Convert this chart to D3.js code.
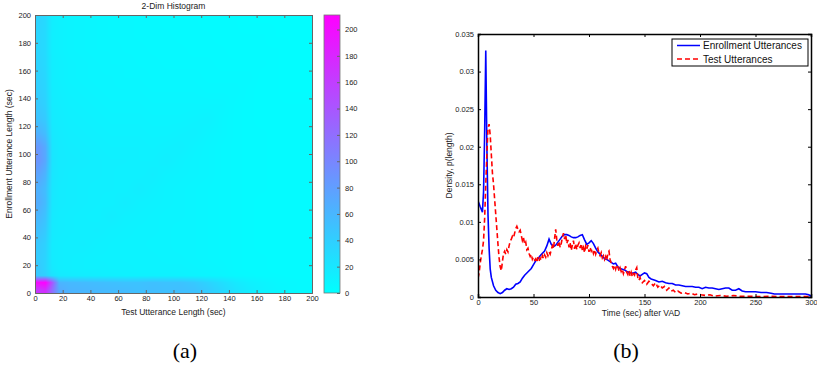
<!DOCTYPE html>
<html>
<head>
<meta charset="utf-8">
<script src="https://cdn.jsdelivr.net/npm/d3@7"></script>
<style>
  body { margin: 0; background: #fff; }
  svg { display: block; font-family: "Liberation Sans", Arial, sans-serif; }
</style>
</head>
<body>
<svg id="chart" width="817" height="367"></svg>
<script>
// (a) 2-D histogram; bin edges (sec) shared by both axes, rows = enrollment length, cols = test length
const binEdges = [0, 5, 10, 15, 20, 30, 40, 50, 60, 70, 80, 90, 100, 110, 120, 130, 140, 150, 160, 170, 180, 190, 200];
const histCounts = [
  [165, 175, 120, 70, 62, 60, 58, 56, 55, 52, 54, 52, 53, 50, 42, 32, 22, 15, 10, 7, 5, 4],
  [205, 211, 140, 62, 58, 56, 54, 52, 50, 50, 52, 50, 50, 45, 36, 27, 18, 12, 9, 6, 5, 4],
  [45, 40, 24, 18, 16, 15, 14, 13, 12, 12, 12, 12, 11, 10, 9, 8, 6, 5, 4, 4, 3, 3],
  [45, 35, 18, 14, 13, 12, 12, 11, 11, 10, 10, 10, 10, 9, 8, 7, 5, 4, 4, 3, 3, 3],
  [42, 36, 16, 14, 13, 12, 11, 11, 10, 10, 10, 9, 9, 8, 7, 6, 5, 4, 4, 3, 3, 3],
  [45, 38, 16, 14, 13, 14, 12, 11, 10, 10, 9, 9, 8, 8, 7, 6, 5, 4, 3, 3, 3, 3],
  [52, 44, 17, 15, 14, 13, 14, 12, 11, 10, 10, 9, 8, 8, 7, 6, 5, 4, 3, 3, 3, 3],
  [60, 50, 18, 15, 14, 13, 12, 15, 12, 11, 10, 9, 9, 8, 7, 6, 5, 4, 3, 3, 3, 3],
  [68, 56, 19, 16, 15, 14, 13, 12, 15, 12, 11, 10, 9, 8, 7, 6, 5, 4, 3, 3, 3, 3],
  [64, 54, 20, 16, 15, 14, 13, 13, 12, 15, 12, 10, 9, 8, 7, 6, 5, 4, 4, 3, 3, 3],
  [75, 62, 21, 17, 15, 14, 14, 13, 12, 12, 14, 11, 10, 9, 8, 6, 5, 4, 4, 3, 3, 3],
  [88, 72, 22, 17, 16, 15, 14, 13, 13, 12, 12, 14, 11, 9, 8, 6, 5, 4, 4, 3, 3, 3],
  [85, 70, 21, 17, 15, 14, 13, 12, 12, 12, 11, 12, 13, 10, 8, 6, 5, 4, 4, 3, 3, 3],
  [64, 54, 19, 16, 14, 13, 12, 11, 11, 11, 10, 10, 11, 12, 9, 7, 5, 4, 4, 3, 3, 3],
  [50, 44, 17, 15, 13, 12, 11, 10, 10, 10, 9, 9, 9, 10, 11, 7, 5, 4, 3, 3, 3, 3],
  [44, 38, 16, 14, 12, 11, 10, 9, 9, 9, 8, 8, 8, 8, 8, 8, 5, 4, 3, 3, 3, 3],
  [40, 35, 15, 13, 11, 10, 9, 8, 8, 8, 7, 7, 7, 7, 6, 6, 6, 4, 3, 3, 2, 2],
  [38, 33, 14, 12, 10, 9, 8, 8, 7, 7, 6, 6, 6, 6, 5, 5, 5, 5, 3, 3, 2, 2],
  [36, 31, 14, 12, 10, 9, 8, 7, 7, 6, 6, 5, 5, 5, 5, 4, 4, 4, 4, 3, 2, 2],
  [34, 30, 13, 11, 9, 8, 7, 7, 6, 6, 5, 5, 5, 4, 4, 4, 3, 3, 3, 3, 2, 2],
  [34, 30, 13, 11, 9, 8, 7, 6, 6, 5, 5, 5, 4, 4, 4, 3, 3, 3, 3, 2, 2, 2],
  [36, 31, 14, 11, 9, 8, 7, 6, 6, 5, 5, 4, 4, 4, 3, 3, 3, 2, 2, 2, 2, 2]
];
const histTicks = d3.range(0, 201, 20);
const cbarTicks = d3.range(0, 201, 20);
const cbarMax = 211;

// (b) density curves
const enrollTime = [0, 2, 4, 5, 6, 7, 8, 9, 10, 11, 12, 14, 16, 18, 20, 22, 24, 26, 28, 30, 32, 34, 36, 38, 40, 42, 44, 46, 48, 50, 52, 54, 56, 58, 60, 62, 64, 66, 68, 70, 72, 74, 76, 78, 80, 82, 84, 86, 88, 90, 92, 94, 96, 98, 100, 102, 104, 106, 108, 110, 112, 114, 116, 118, 120, 122, 124, 126, 128, 130, 132, 134, 136, 138, 140, 142, 144, 146, 148, 150, 152, 154, 156, 158, 160, 163, 166, 169, 172, 175, 178, 181, 184, 187, 190, 193, 196, 199, 202, 205, 208, 211, 214, 217, 220, 223, 226, 229, 232, 235, 238, 241, 245, 250, 255, 260, 264, 267, 272, 278, 284, 290, 295, 298, 300];
const enrollDensity = [0.0128, 0.012, 0.0113, 0.014, 0.022, 0.0328, 0.02, 0.011, 0.0065, 0.0037, 0.0026, 0.0015, 0.0009, 0.0006, 0.00045, 0.0006, 0.0009, 0.0011, 0.001, 0.0011, 0.0013, 0.0017, 0.0018, 0.002, 0.0025, 0.0029, 0.0032, 0.0035, 0.0038, 0.0043, 0.0048, 0.0051, 0.0055, 0.0058, 0.0061, 0.0068, 0.0077, 0.007, 0.0067, 0.0069, 0.0073, 0.0077, 0.0081, 0.0083, 0.0083, 0.0082, 0.008, 0.0079, 0.0079, 0.008, 0.0082, 0.0083, 0.0076, 0.007, 0.0072, 0.0075, 0.0071, 0.0065, 0.006, 0.0057, 0.0054, 0.0051, 0.005, 0.0048, 0.0046, 0.0044, 0.0045, 0.004, 0.0038, 0.0037, 0.0036, 0.0034, 0.0033, 0.0032, 0.0032, 0.0033, 0.003, 0.0028, 0.003, 0.0032, 0.0031, 0.0026, 0.0024, 0.0023, 0.0022, 0.002, 0.0021, 0.0019, 0.0018, 0.0018, 0.0016, 0.0016, 0.0015, 0.0014, 0.0014, 0.0014, 0.0013, 0.0013, 0.0011, 0.0013, 0.0012, 0.0012, 0.0011, 0.001, 0.0011, 0.0012, 0.0012, 0.0009, 0.0009, 0.0011, 0.0008, 0.0007, 0.0007, 0.0007, 0.0006, 0.0006, 0.0005, 0.0004, 0.0004, 0.0004, 0.0004, 0.0004, 0.0004, 0.0003, 0.0001];

const testTime = [0, 1, 2, 3, 4, 5, 6, 7, 8, 9, 10, 11, 12, 13, 14, 15, 16, 17, 18, 19, 20, 21, 22, 23, 24, 25, 26, 27, 28, 29, 30, 31, 32, 33, 34, 35, 36, 37, 38, 39, 40, 41, 42, 43, 44, 45, 46, 47, 48, 49, 50, 51, 52, 53, 54, 55, 56, 57, 58, 59, 60, 61, 62, 63, 64, 65, 66, 67, 68, 69, 70, 71, 72, 73, 74, 75, 76, 77, 78, 79, 80, 81, 82, 83, 84, 85, 86, 87, 88, 89, 90, 91, 92, 93, 94, 95, 96, 97, 98, 99, 100, 101, 102, 103, 104, 105, 106, 107, 108, 109, 110, 111, 112, 113, 114, 115, 116, 117, 118, 119, 120, 121, 122, 123, 124, 125, 126, 127, 128, 129, 130, 131, 132, 133, 134, 135, 136, 137, 138, 139, 140, 141, 142, 143, 144, 145, 146, 147, 148, 150, 152, 154, 156, 158, 160, 162, 164, 166, 168, 170, 172, 174, 176, 178, 180, 183, 186, 189, 192, 195, 198, 201, 205, 209, 213, 218, 224, 230, 236, 244, 252, 262, 272, 282, 292, 300];
const testDensity = [0.0025, 0.0032, 0.0045, 0.0055, 0.0063, 0.0075, 0.0105, 0.015, 0.019, 0.0225, 0.023, 0.0215, 0.019, 0.0165, 0.015, 0.013, 0.011, 0.009, 0.007, 0.0052, 0.004, 0.0035, 0.0047, 0.0058, 0.0061, 0.0057, 0.0063, 0.006, 0.0068, 0.0074, 0.0077, 0.0081, 0.0079, 0.0085, 0.0091, 0.0094, 0.009, 0.0087, 0.0089, 0.0082, 0.0075, 0.0079, 0.007, 0.0073, 0.0063, 0.0065, 0.0058, 0.0054, 0.0057, 0.005, 0.0053, 0.0049, 0.0051, 0.0046, 0.0053, 0.0048, 0.0052, 0.0049, 0.0055, 0.0051, 0.0056, 0.0053, 0.0059, 0.0055, 0.006, 0.0057, 0.0063, 0.0068, 0.0064, 0.0078, 0.009, 0.0076, 0.0068, 0.0074, 0.0066, 0.0071, 0.0079, 0.0085, 0.0077, 0.0083, 0.0071, 0.0076, 0.0066, 0.0072, 0.0062, 0.0069, 0.0075, 0.0064, 0.0071, 0.0063, 0.0069, 0.0072, 0.0065, 0.0071, 0.0062, 0.0066, 0.0059, 0.0068, 0.0064, 0.0069, 0.006, 0.0066, 0.0061, 0.0064, 0.0058, 0.0063, 0.0057, 0.0062, 0.0065, 0.0058, 0.0055, 0.0059, 0.0052, 0.0055, 0.005, 0.0054, 0.0049, 0.0059, 0.0061, 0.005, 0.0045, 0.0041, 0.0038, 0.0042, 0.0037, 0.0043, 0.004, 0.0035, 0.0039, 0.0034, 0.0037, 0.0031, 0.0036, 0.0041, 0.0033, 0.003, 0.0035, 0.0028, 0.0033, 0.0027, 0.0031, 0.0029, 0.0036, 0.0039, 0.0025, 0.0022, 0.0026, 0.0021, 0.0019, 0.0022, 0.0017, 0.0021, 0.0018, 0.0015, 0.0019, 0.0013, 0.0016, 0.0012, 0.0014, 0.0009, 0.0012, 0.0008, 0.0009, 0.0006, 0.0008, 0.0005, 0.0006, 0.0004, 0.0005, 0.0003, 0.0004, 0.0003, 0.0002, 0.0003, 0.0001, 0.0002, 0.0001, 0.0002, 0.0001, 0.0001, 0.00005, 0.0001, 0.00005, 0.00005, 0.00005, 0.00005];

const densityTicks = d3.range(0, 0.0351, 0.005);
const timeTicks = d3.range(0, 301, 50);
const seriesNames = ['Enrollment Utterances', 'Test Utterances'];

const svg = d3.select('#chart');
const tickFont = '7.5px';

// ---------- (a) histogram ----------
const hx = d3.scaleLinear().domain([0, 200]).range([35, 312]);
const hy = d3.scaleLinear().domain([0, 200]).range([293, 15]);
const color = d3.scaleLinear().domain([0, cbarMax]).range(['#00ffff', '#ff00ff']).clamp(true);

// smooth (interpolated) shading between bin centres
const centers = d3.pairs(binEdges).map(([a, b]) => (a + b) / 2);
const toIdx = d3.scaleLinear().domain(centers).range(d3.range(centers.length)).clamp(true);
const n = centers.length;
const pw = Math.round(hx(200) - hx(0)), ph = Math.round(hy(0) - hy(200));
const cv = document.createElement('canvas');
cv.width = pw; cv.height = ph;
const ctx = cv.getContext('2d');
const img = ctx.createImageData(pw, ph);
const colIdx = d3.range(pw).map(px => toIdx(hx.invert(hx(0) + px + 0.5)));
const rowIdx = d3.range(ph).map(py => toIdx(hy.invert(hy(200) + py + 0.5)));
rowIdx.forEach((fi, py) => {
  const i0 = Math.floor(fi), i1 = Math.min(i0 + 1, n - 1), ti = fi - i0;
  colIdx.forEach((fj, px) => {
    const j0 = Math.floor(fj), j1 = Math.min(j0 + 1, n - 1), tj = fj - j0;
    const a = histCounts[i0][j0] * (1 - tj) + histCounts[i0][j1] * tj;
    const b = histCounts[i1][j0] * (1 - tj) + histCounts[i1][j1] * tj;
    const c = d3.rgb(color(a * (1 - ti) + b * ti));
    const k = (py * pw + px) * 4;
    img.data[k] = c.r; img.data[k + 1] = c.g; img.data[k + 2] = c.b; img.data[k + 3] = 255;
  });
});
ctx.putImageData(img, 0, 0);

svg.append('image')
  .attr('x', hx(0)).attr('y', hy(200))
  .attr('width', pw).attr('height', ph)
  .attr('preserveAspectRatio', 'none')
  .attr('href', cv.toDataURL());

function boxAxes(g, x, y, xt, yt, fmtY, stroke, sw) {
  g.append('g').attr('transform', `translate(0,${y.range()[0]})`)
    .call(d3.axisBottom(x).tickValues(xt).tickSize(-3).tickPadding(3));
  g.append('g').attr('transform', `translate(0,${y.range()[1]})`)
    .call(d3.axisTop(x).tickValues(xt).tickSize(-3).tickFormat(''));
  g.append('g').attr('transform', `translate(${x.range()[0]},0)`)
    .call(d3.axisLeft(y).tickValues(yt).tickSize(-3).tickPadding(4).tickFormat(fmtY));
  g.append('g').attr('transform', `translate(${x.range()[1]},0)`)
    .call(d3.axisRight(y).tickValues(yt).tickSize(-3).tickFormat(''));
  g.selectAll('.domain').attr('stroke', stroke).attr('stroke-width', sw);
  g.selectAll('.tick line').attr('stroke', stroke);
  g.selectAll('text').attr('font-size', tickFont).attr('fill', '#222')
    .attr('font-family', '"Liberation Sans", Arial, sans-serif');
}

const gA = svg.append('g');
boxAxes(gA, hx, hy, histTicks, histTicks, d3.format('d'), '#666', 1);
gA.selectAll('.tick').filter(d => d === 0).select('line').remove();

svg.append('text').attr('x', (hx(0) + hx(200)) / 2).attr('y', 9)
  .attr('text-anchor', 'middle').attr('font-size', '8.5px').attr('fill', '#222')
  .text('2-Dim Histogram');
svg.append('text').attr('x', (hx(0) + hx(200)) / 2).attr('y', 315)
  .attr('text-anchor', 'middle').attr('font-size', '8.5px').attr('fill', '#222')
  .text('Test Utterance Length (sec)');
svg.append('text')
  .attr('transform', `translate(12,${(hy(0) + hy(200)) / 2}) rotate(-90)`)
  .attr('text-anchor', 'middle').attr('font-size', '8.5px').attr('fill', '#222')
  .text('Enrollment Utterance Length (sec)');

// colorbar
const cy = d3.scaleLinear().domain([0, cbarMax]).range([293, 15]);
const grad = svg.append('defs').append('linearGradient')
  .attr('id', 'cbar').attr('x1', 0).attr('y1', 1).attr('x2', 0).attr('y2', 0);
grad.append('stop').attr('offset', 0).attr('stop-color', color(0));
grad.append('stop').attr('offset', 1).attr('stop-color', color(cbarMax));
svg.append('rect').attr('x', 324).attr('y', cy(cbarMax))
  .attr('width', 16).attr('height', cy(0) - cy(cbarMax))
  .attr('fill', 'url(#cbar)').attr('stroke', '#777').attr('stroke-width', 0.8);
const gC = svg.append('g').attr('transform', 'translate(340,0)')
  .call(d3.axisRight(cy).tickValues(cbarTicks).tickSize(-3).tickPadding(5));
gC.select('.domain').remove();
gC.selectAll('.tick line').attr('stroke', '#666');
gC.selectAll('text').attr('font-size', tickFont).attr('fill', '#222')
  .attr('font-family', '"Liberation Sans", Arial, sans-serif');

// ---------- (b) densities ----------
const dx = d3.scaleLinear().domain([0, 300]).range([478, 811]);
const dy = d3.scaleLinear().domain([0, 0.035]).range([297, 34]);
const clip = svg.select('defs').append('clipPath').attr('id', 'clipB');
clip.append('rect').attr('x', 478).attr('y', 34).attr('width', 333).attr('height', 263);

const line = d3.line().x(d => dx(d[0])).y(d => dy(d[1]));
const enroll = enrollTime.map((t, i) => [t, enrollDensity[i]]);
const test = testTime.map((t, i) => [t, testDensity[i]]);

const gB = svg.append('g');
gB.append('path').datum(enroll).attr('d', line).attr('clip-path', 'url(#clipB)')
  .attr('fill', 'none').attr('stroke', '#0000ff').attr('stroke-width', 1.6);
gB.append('path').datum(test).attr('d', line).attr('clip-path', 'url(#clipB)')
  .attr('fill', 'none').attr('stroke', '#ff0000').attr('stroke-width', 1.6)
  .attr('stroke-dasharray', '5,3');

boxAxes(gB, dx, dy, timeTicks, densityTicks, d => d === 0 ? '0' : d3.format('.3~f')(d), '#000', 1.5);
gB.selectAll('.tick').filter(d => d === 0).select('line').remove();

svg.append('text').attr('x', 641).attr('y', 316)
  .attr('text-anchor', 'middle').attr('font-size', '8.5px').attr('fill', '#222')
  .text('Time (sec) after VAD');
svg.append('text')
  .attr('transform', `translate(452,${(dy(0) + dy(0.035)) / 2}) rotate(-90)`)
  .attr('text-anchor', 'middle').attr('font-size', '8.5px').attr('fill', '#222')
  .text('Density, p(length)');

// legend
const lg = svg.append('g').attr('transform', 'translate(672,39)');
lg.append('rect').attr('width', 136).attr('height', 27)
  .attr('fill', '#fff').attr('stroke', '#000').attr('stroke-width', 1);
const legendStyles = [{ c: '#0000ff', dash: null }, { c: '#ff0000', dash: '5,3' }];
seriesNames.forEach((name, i) => {
  const yy = 6.5 + i * 13.5;
  lg.append('line').attr('x1', 5).attr('x2', 28).attr('y1', yy).attr('y2', yy)
    .attr('stroke', legendStyles[i].c).attr('stroke-width', 1.5)
    .attr('stroke-dasharray', legendStyles[i].dash);
  lg.append('text').attr('x', 31).attr('y', yy).attr('dy', '0.35em')
    .attr('font-size', '10px').attr('fill', '#111').text(name);
});

// captions
svg.append('text').attr('x', 185).attr('y', 358).attr('text-anchor', 'middle')
  .attr('font-family', '"Liberation Serif", serif').attr('font-size', '22px').text('(a)');
svg.append('text').attr('x', 626).attr('y', 358).attr('text-anchor', 'middle')
  .attr('font-family', '"Liberation Serif", serif').attr('font-size', '22px').text('(b)');
</script>
</body>
</html>
